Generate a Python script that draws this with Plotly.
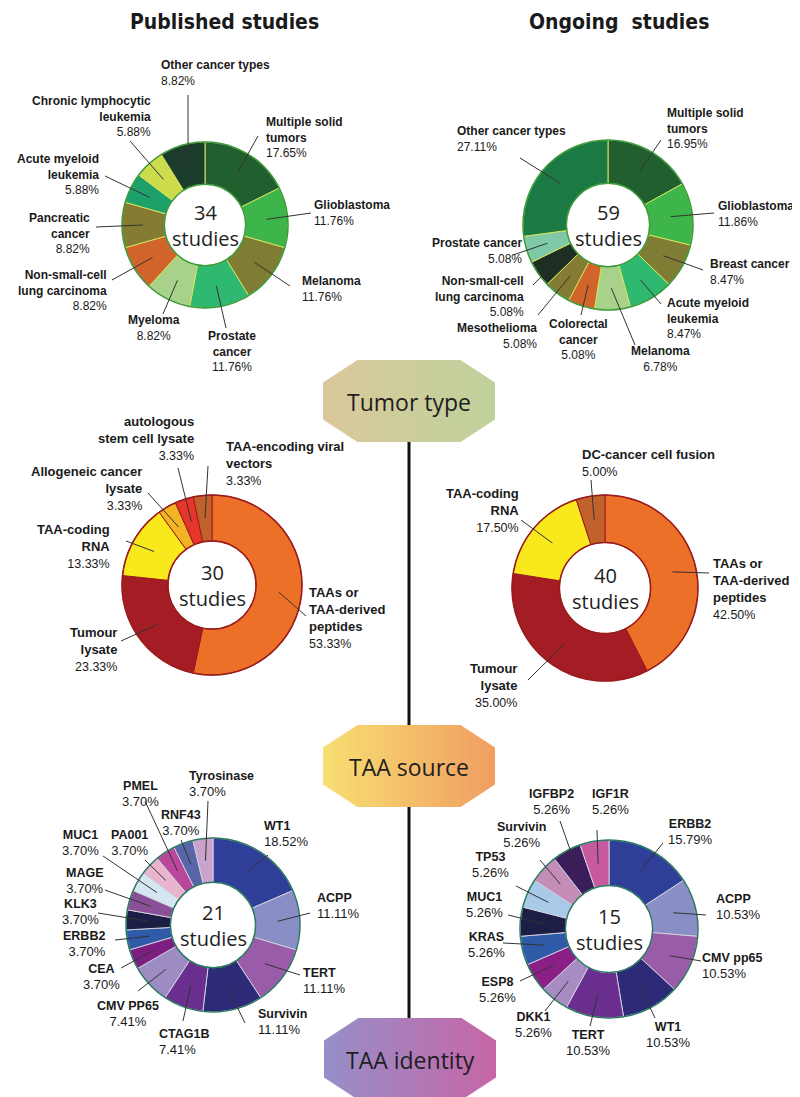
import math
import plotly.graph_objects as go

W, H = 800, 1097

# ---------------- data ----------------
pub_tumor_labels = ["Multiple solid tumors", "Glioblastoma", "Melanoma", "Prostate cancer", "Myeloma",
                    "Non-small-cell lung carcinoma", "Pancreatic cancer", "Acute myeloid leukemia",
                    "Chronic lymphocytic leukemia", "Other cancer types"]
pub_tumor_values = [17.65, 11.76, 11.76, 11.76, 8.82, 8.82, 8.82, 5.88, 5.88, 8.82]
pub_tumor_total = 34

ong_tumor_labels = ["Multiple solid tumors", "Glioblastoma", "Breast cancer", "Acute myeloid leukemia",
                    "Melanoma", "Colorectal cancer", "Mesothelioma", "Non-small-cell lung carcinoma",
                    "Prostate cancer", "Other cancer types"]
ong_tumor_values = [16.95, 11.86, 8.47, 8.47, 6.78, 5.08, 5.08, 5.08, 5.08, 27.11]
ong_tumor_total = 59

pub_source_labels = ["TAAs or TAA-derived peptides", "Tumour lysate", "TAA-coding RNA",
                     "Allogeneic cancer lysate", "autologous stem cell lysate", "TAA-encoding viral vectors"]
pub_source_values = [53.33, 23.33, 13.33, 3.33, 3.33, 3.33]
pub_source_total = 30

ong_source_labels = ["TAAs or TAA-derived peptides", "Tumour lysate", "TAA-coding RNA", "DC-cancer cell fusion"]
ong_source_values = [42.50, 35.00, 17.50, 5.00]
ong_source_total = 40

pub_ident_labels = ["WT1", "ACPP", "TERT", "Survivin", "CTAG1B", "CMV PP65", "CEA", "ERBB2", "KLK3",
                    "MAGE", "MUC1", "PA001", "PMEL", "RNF43", "Tyrosinase"]
pub_ident_values = [18.52, 11.11, 11.11, 11.11, 7.41, 7.41, 3.70, 3.70, 3.70, 3.70, 3.70, 3.70, 3.70, 3.70, 3.70]
pub_ident_total = 21

ong_ident_labels = ["ERBB2", "ACPP", "CMV pp65", "WT1", "TERT", "DKK1", "ESP8", "KRAS", "MUC1", "TP53",
                    "Survivin", "IGFBP2", "IGF1R"]
ong_ident_values = [15.79, 10.53, 10.53, 10.53, 10.53, 5.26, 5.26, 5.26, 5.26, 5.26, 5.26, 5.26, 5.26]
ong_ident_total = 15

column_titles = ["Published studies", "Ongoing  studies"]
stage_titles = ["Tumor type", "TAA source", "TAA identity"]

# ---------------- styles ----------------
pub_tumor_colors = ["#215f2f", "#3db54a", "#7f7d33", "#2fb870", "#a8d28a", "#d0642a", "#867b32",
                    "#1ea06a", "#cddc4d", "#1c3d2c"]
ong_tumor_colors = ["#215f2f", "#3db54a", "#7f7d33", "#2fb870", "#a8d28a", "#d0642a", "#867b32",
                    "#1c2f22", "#7fc9a8", "#1b7a43"]
pub_source_colors = ["#ec7028", "#a51d24", "#f8e81c", "#f2b324", "#e5362b", "#c1622c"]
ong_source_colors = ["#ec7028", "#a51d24", "#f8e81c", "#c1622c"]
pub_ident_colors = ["#2f3f99", "#8a8ec6", "#9a5ba8", "#2d2a78", "#6a2e8f", "#9c8cc2", "#7c1f80",
                    "#2f5aa8", "#1c1e45", "#8b4f99", "#d4e6f1", "#eab4ce", "#b9479b", "#5865a8", "#c9a3cb"]
ong_ident_colors = ["#2f3f99", "#8a8ec6", "#9a5ba8", "#2d2a78", "#6a2e8f", "#a68cc2", "#8a1f86",
                    "#2f5aa8", "#1c1e45", "#a9c9e8", "#c48db8", "#3a1d5a", "#c75a9e"]

HOLE = 0.49
LABEL_FONT = "Liberation Sans, Arial, sans-serif"
CENTER_FONT = "Open Sans, sans-serif"

# label layout: (anchor, text_x, text_y, leader_end_x, leader_end_y, line-break word indices)
pub_tumor_pos = [("l", 257, 129, 250, 128, (2,)), ("l", 305, 205, 303, 205, ()), ("l", 293, 281, 282, 278, ()),
                 ("c", 224, 343, 218, 320, (1,)), ("c", 146, 320, 155, 306, ()), ("r", 100, 282, 104, 272, (1,)),
                 ("r", 83, 225, 88, 219, (1,)), ("r", 92, 166, 97, 168, (2,)), ("r", 144, 108, 122, 133, (2,)),
                 ("l", 152, 65, 180, 87, ())]
ong_tumor_pos = [("l", 658, 120, 653, 132, (2,)), ("l", 709, 206, 706, 205, ()), ("l", 701, 264, 695, 262, ()),
                 ("l", 658, 310, 653, 296, (2,)), ("c", 652, 351, 627, 337, ()), ("c", 570, 331, 573, 307, (1,)),
                 ("r", 530, 328, 530, 307, ()), ("r", 517, 288, 525, 277, (1,)), ("r", 515, 243, 505, 247, ()),
                 ("l", 448, 131, 512, 150, ())]
pub_source_pos = [("l", 300, 610, 298, 608, (2, 3)), ("r", 110, 641, 113, 633, (1,)),
                  ("r", 103, 538, 118, 533, (1,)), ("r", 135, 480, 140, 485, (2,)),
                  ("r", 187, 430, 170, 460, (1,)), ("l", 217, 455, 200, 458, (2,))]
ong_source_pos = [("l", 704, 581, 701, 565, (2, 3)), ("r", 510, 677, 520, 672, (1,)),
                  ("r", 512, 502, 513, 512, (1,)), ("l", 573, 455, 583, 472, ())]
pub_ident_pos = [("l", 255, 826, 260, 847, ()), ("l", 308, 898, 302, 905, ()), ("l", 294, 973, 292, 967, ()),
                 ("l", 249, 1014, 237, 1015, ()), ("l", 150, 1034, 175, 1013, ()), ("c", 120, 1006, 130, 983, ()),
                 ("c", 93, 969, 113, 960, ()), ("r", 99, 936, 107, 932, ()), ("c", 72, 904, 90, 905, ()),
                 ("c", 77, 873, 97, 882, ()), ("c", 72, 835, 95, 848, ()), ("c", 122, 835, 137, 852, ()),
                 ("c", 132, 786, 137, 793, ()), ("c", 173, 815, 173, 832, ()), ("l", 180, 776, 200, 793, ())]
ong_ident_pos = [("c", 682, 824, 655, 835, ()), ("l", 707, 899, 698, 907, ()), ("l", 693, 958, 693, 953, ()),
                 ("c", 660, 1027, 647, 1010, ()), ("c", 580, 1035, 582, 1018, ()), ("c", 525, 1017, 537, 1003, ()),
                 ("c", 489, 982, 512, 973, ()), ("c", 478, 937, 495, 935, ()), ("c", 476, 897, 500, 907, ()),
                 ("c", 482, 857, 508, 878, ()), ("c", 513, 827, 532, 852, ()), ("c", 543, 794, 552, 813, ()),
                 ("c", 602, 794, 589, 822, ())]

donuts = [
    dict(labels=pub_tumor_labels, values=pub_tumor_values, total=pub_tumor_total, colors=pub_tumor_colors,
         pos=pub_tumor_pos, cx=197, cy=217, r=83, sep="#d3e25e", edge="#3b9a3e", name_size=12, pct_size=12),
    dict(labels=ong_tumor_labels, values=ong_tumor_values, total=ong_tumor_total, colors=ong_tumor_colors,
         pos=ong_tumor_pos, cx=600, cy=217, r=85, sep="#d3e25e", edge="#3b9a3e", name_size=12, pct_size=12),
    dict(labels=pub_source_labels, values=pub_source_values, total=pub_source_total, colors=pub_source_colors,
         pos=pub_source_pos, cx=204, cy=577, r=90, sep="#9a1c1c", edge="#9a1c1c", name_size=13, pct_size=12.5),
    dict(labels=ong_source_labels, values=ong_source_values, total=ong_source_total, colors=ong_source_colors,
         pos=ong_source_pos, cx=597, cy=580, r=93, sep="#9a1c1c", edge="#9a1c1c", name_size=13, pct_size=12.5),
    dict(labels=pub_ident_labels, values=pub_ident_values, total=pub_ident_total, colors=pub_ident_colors,
         pos=pub_ident_pos, cx=205, cy=917, r=87, sep="#d0d0dc", edge="#2b7a62", name_size=12.5, pct_size=13),
    dict(labels=ong_ident_labels, values=ong_ident_values, total=ong_ident_total, colors=ong_ident_colors,
         pos=ong_ident_pos, cx=601, cy=921, r=89, sep="#d0d0dc", edge="#2b7a62", name_size=12.5, pct_size=13),
]

stages = [  # (title, cx, cy, gradient colors)
    (stage_titles[0], 401, 393, ["#dac89c", "#bfd29b"]),
    (stage_titles[1], 401, 758, ["#f7df72", "#f09e62"]),
    (stage_titles[2], 402, 1051, ["#958fc9", "#c766a6"]),
]
OCT_W, OCT_H = 86, 41

fig = go.Figure()
shapes = []
annotations = []


def wrap(name, breaks):
    words = name.split(" ")
    out = []
    for i, w in enumerate(words):
        if i > 0:
            out.append("<br>" if i in breaks else " ")
        out.append(w)
    return "".join(out)


# vertical connector line (below octagons)
shapes.append(dict(type="line", xref="x", yref="y", x0=401, x1=401, y0=stages[0][2], y1=stages[2][2],
                   line=dict(color="#111111", width=3), layer="below"))

# octagons with gradient fill
for title, cx, cy, grad in stages:
    a, b = OCT_W * 0.6, OCT_H * 0.45
    xs = [cx - a, cx + a, cx + OCT_W, cx + OCT_W, cx + a, cx - a, cx - OCT_W, cx - OCT_W, cx - a]
    ys = [cy - OCT_H, cy - OCT_H, cy - b, cy + b, cy + OCT_H, cy + OCT_H, cy + b, cy - b, cy - OCT_H]
    fig.add_trace(go.Scatter(x=xs, y=ys, mode="lines", fill="toself", line=dict(width=0, color="rgba(0,0,0,0)"),
                             fillgradient=dict(type="horizontal", colorscale=[[0, grad[0]], [1, grad[1]]]),
                             hoverinfo="skip", showlegend=False))
    annotations.append(dict(x=cx, y=cy + 1, xref="x", yref="y", text=title, showarrow=False,
                            font=dict(family=CENTER_FONT, size=23, color="#1e1e1e")))

# donuts
for d in donuts:
    cx, cy, r = d["cx"], d["cy"], d["r"]
    fig.add_trace(go.Pie(
        labels=d["labels"], values=d["values"], hole=HOLE, sort=False, direction="clockwise", rotation=0,
        marker=dict(colors=d["colors"], line=dict(color=d["sep"], width=1)),
        textinfo="none", hoverinfo="label+percent", showlegend=False,
        domain=dict(x=[(cx - r) / W, (cx + r) / W], y=[(H - cy - r) / H, (H - cy + r) / H]),
    ))
    # outer / inner edge rings
    for rr in (r, r * HOLE):
        shapes.append(dict(type="circle", xref="x", yref="y", x0=cx - rr, x1=cx + rr, y0=cy - rr, y1=cy + rr,
                           line=dict(color=d["edge"], width=1.5), fillcolor="rgba(0,0,0,0)", layer="above"))
    annotations.append(dict(x=cx, y=cy, xref="x", yref="y", text=f"{d['total']}<br>studies", showarrow=False,
                            font=dict(family=CENTER_FONT, size=20, color="#222222")))
    total = sum(d["values"])
    cum = 0.0
    rmid = (r + r * HOLE) / 2
    for name, v, (anc, tx, ty, ex, ey, brk) in zip(d["labels"], d["values"], d["pos"]):
        frac = (cum + v / 2) / total
        cum += v
        ang = 2 * math.pi * frac
        px, py = cx + rmid * math.sin(ang), cy - rmid * math.cos(ang)
        shapes.append(dict(type="line", xref="x", yref="y", x0=ex, y0=ey, x1=px, y1=py,
                           line=dict(color="#333333", width=1), layer="above"))
        xa = {"l": "left", "r": "right", "c": "center"}[anc]
        txt = (f"<b>{wrap(name, brk)}</b><br>"
               f"<span style='font-size:{d['pct_size']}px;font-weight:normal'>{v:.2f}%</span>")
        annotations.append(dict(x=tx, y=ty, xref="x", yref="y", text=txt, showarrow=False, xanchor=xa,
                                yanchor="middle", align=xa, borderpad=0,
                                font=dict(family=LABEL_FONT, size=d["name_size"], color="#1a1a1a")))

# column titles
for title, x in zip(column_titles, [216, 611]):
    annotations.append(dict(x=x, y=14, xref="x", yref="y", text=f"<b>{title}</b>", showarrow=False,
                            font=dict(family="Liberation Sans Narrow, DejaVu Sans Condensed, sans-serif",
                                      size=21, color="#1a1a1a")))

fig.update_layout(
    width=W, height=H, margin=dict(l=0, r=0, t=0, b=0),
    paper_bgcolor="white", plot_bgcolor="white",
    xaxis=dict(range=[0, W], visible=False, fixedrange=True),
    yaxis=dict(range=[H, 0], visible=False, fixedrange=True),
    shapes=shapes, annotations=annotations, showlegend=False,
)

fig.write_html("out.html")
